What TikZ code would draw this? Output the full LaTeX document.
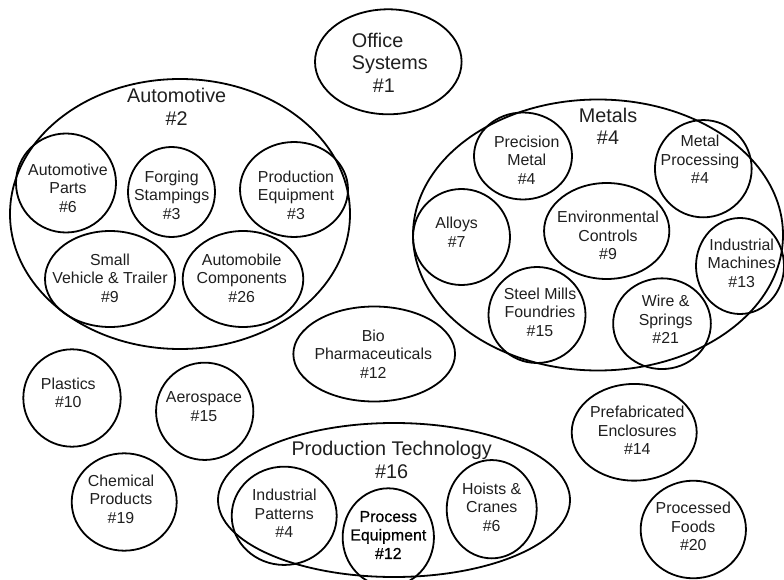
\documentclass[tikz,border=0pt]{standalone}
\usepackage{fontspec}
\setmainfont{Liberation Sans}
\newfontfamily\boldishfont[FakeBold=0.6]{Liberation Sans}
\usetikzlibrary{shapes.geometric}
\tikzset{
  blob/.style={draw, ellipse, line width=1.8pt, inner sep=0pt, outer sep=0pt},
  small/.style={font=\fontsize{15.9}{18.5}\selectfont, align=center, inner sep=0pt, text=black!88},
  big/.style={font=\fontsize{19.8}{22.6}\selectfont, align=center, inner sep=0pt, text=black!88},
}
\begin{document}
\begin{tikzpicture}[x=1pt,y=-1pt]
\useasboundingbox (0,0) rectangle (784,580);
% Office Systems
\node[blob, minimum width=146.6pt, minimum height=105pt] (office) at (388.3,61.8) {};
\node[big, align=left, anchor=west] (officet) at (351.7,62.5) {Office\\Systems\\\hspace*{21pt}\#1};
% Automotive group
\node[blob, minimum width=340pt, minimum height=270pt] (auto) at (180,214) {};
\node[big] (autot) at (176.7,107) {Automotive\\\#2};
\node[blob, minimum width=100pt, minimum height=99pt] (autoparts) at (66,183) {};
\node[small] (autopartst) at (68,188.3) {Automotive\\Parts\\\#6};
\node[blob, minimum width=87pt, minimum height=90pt] (forging) at (171.5,192) {};
\node[small] (forgingt) at (171.7,195) {Forging\\Stampings\\\#3};
\node[blob, minimum width=108pt, minimum height=95pt] (prodeq) at (294,189.5) {};
\node[small] (prodeqt) at (296,195) {Production\\Equipment\\\#3};
\node[blob, minimum width=130pt, minimum height=96pt] (smallveh) at (110,279) {};
\node[small] (smallveht) at (110,278.3) {Small\\Vehicle \& Trailer\\\#9};
\node[blob, minimum width=120.6pt, minimum height=96pt] (autocomp) at (243,279) {};
\node[small] (autocompt) at (241.7,278.3) {Automobile\\Components\\\#26};
% Metals group
\node[blob, minimum width=370pt, minimum height=271pt] (metals) at (598,235) {};
\node[big] (metalst) at (608,126.5) {Metals\\\#4};
\node[blob, minimum width=98pt, minimum height=87pt] (precision) at (523,156) {};
\node[small] (precisiont) at (526.7,160) {Precision\\Metal\\\#4};
\node[blob, minimum width=96.7pt, minimum height=97.3pt] (metalproc) at (703.3,168.7) {};
\node[small] (metalproct) at (700,159.5) {Metal\\Processing\\\#4};
\node[blob, minimum width=97pt, minimum height=96pt] (alloys) at (461.5,237) {};
\node[small] (alloyst) at (456.7,232.2) {Alloys\\\#7};
\node[blob, minimum width=125.3pt, minimum height=96pt] (envctrl) at (606.7,231) {};
\node[small] (envctrlt) at (608,235.7) {Environmental\\Controls\\\#9};
\node[blob, minimum width=88pt, minimum height=96pt] (indmach) at (740,266) {};
\node[small] (indmacht) at (741.7,263.3) {Industrial\\Machines\\\#13};
\node[blob, minimum width=97pt, minimum height=96pt] (steel) at (537,315) {};
\node[small] (steelt) at (540,312.3) {Steel Mills\\Foundries\\\#15};
\node[blob, minimum width=97.7pt, minimum height=90.7pt] (wire) at (662,323.7) {};
\node[small] (wiret) at (665.7,319.3) {Wire \&\\Springs\\\#21};
% Standalone circles
\node[blob, minimum width=161.7pt, minimum height=95pt] (bio) at (374.2,354) {};
\node[small] (biot) at (373.3,354) {Bio\\Pharmaceuticals\\\#12};
\node[blob, minimum width=97.4pt, minimum height=97.4pt] (plastics) at (72,398) {};
\node[small] (plasticst) at (68.3,393) {Plastics\\\#10};
\node[blob, minimum width=97.3pt, minimum height=97.3pt] (aero) at (204.7,411.3) {};
\node[small] (aerot) at (204,406.8) {Aerospace\\\#15};
\node[blob, minimum width=105pt, minimum height=97.4pt] (chem) at (124.2,502) {};
\node[small] (chemt) at (121,499.3) {Chemical\\Products\\\#19};
\node[blob, minimum width=125pt, minimum height=96.7pt] (prefab) at (634.2,432.3) {};
\node[small] (prefabt) at (637.3,430.3) {Prefabricated\\Enclosures\\\#14};
\node[blob, minimum width=105.3pt, minimum height=97.6pt] (foods) at (693.3,529.5) {};
\node[small] (foodst) at (693.3,526.5) {Processed\\Foods\\\#20};
% Production Technology group
\node[blob, minimum width=352pt, minimum height=154pt] (prodtech) at (394,500) {};
\node[big] (prodtecht) at (391.7,460) {Production Technology\\\#16};
\node[blob, minimum width=105pt, minimum height=98.3pt] (indpat) at (284.2,515.8) {};
\node[small] (indpatt) at (284.3,513.3) {Industrial\\Patterns\\\#4};
\node[blob, minimum width=91.3pt, minimum height=98pt] (proceq) at (388.3,537.3) {};
\node[small, text=black, font=\fontsize{15.9}{18.5}\boldishfont] (proceqt) at (388.3,535) {Process\\Equipment\\\#12};
\node[blob, minimum width=90pt, minimum height=98.3pt] (hoists) at (491.7,509.2) {};
\node[small] (hoistst) at (491.7,507.3) {Hoists \&\\Cranes\\\#6};
\end{tikzpicture}
\end{document}
